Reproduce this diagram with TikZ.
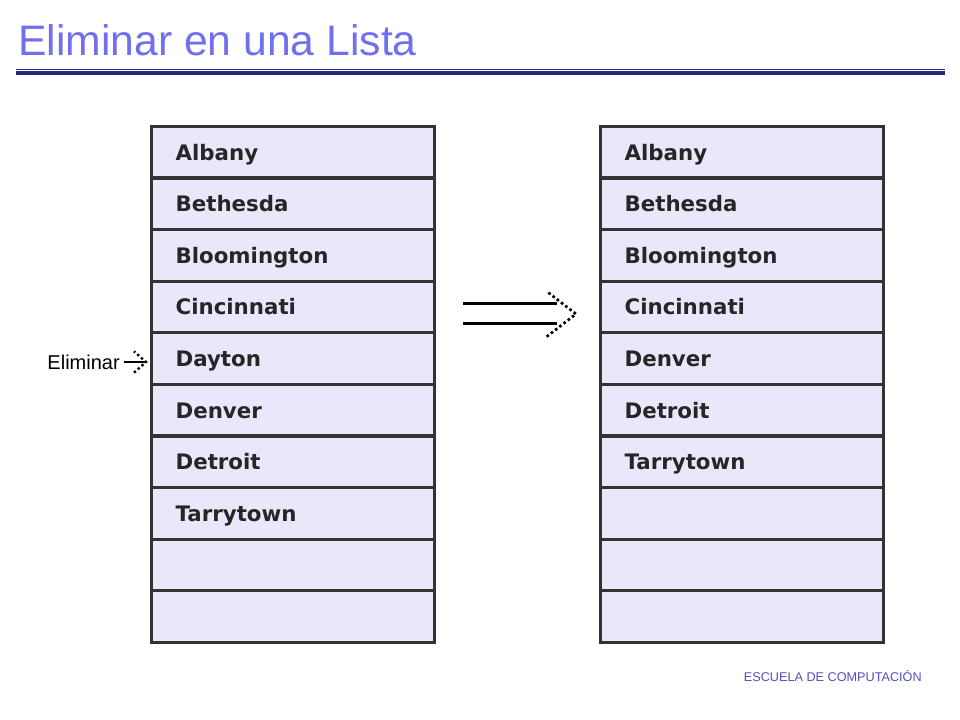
\documentclass[tikz,border=0pt]{standalone}
\usepackage{fontspec}
\setmainfont{Liberation Sans}
\newfontfamily\cellfont{DejaVu Sans}
\begin{document}
\begin{tikzpicture}[x=0.75pt,y=-0.75pt,
  cell/.style={draw=black!80,line width=2.2pt,fill={rgb,255:red,232;green,232;blue,250},minimum width=212pt,minimum height=38.5pt,anchor=north west,inner sep=0pt},
  celltxt/.style={anchor=base west,font=\cellfont\bfseries\fontsize{16}{16}\selectfont,text=black!85,inner sep=0pt},
  navy/.style={draw={rgb,255:red,40;green,40;blue,130}}]
\useasboundingbox (0,0) rectangle (960,720);
\definecolor{ttl}{RGB}{112,112,238}
\node[anchor=base west,text=ttl,font=\fontsize{32}{32}\selectfont,inner sep=0pt] (title) at (18,56) {Eliminar en una Lista};
\draw[navy,line width=0.7pt] (16,69) -- (945,69);
\draw[navy,line width=3pt] (16,73) -- (945,73);
\foreach \side/\x/\names in {L/150/{Albany,Bethesda,Bloomington,Cincinnati,Dayton,Denver,Detroit,Tarrytown,,},R/599/{Albany,Bethesda,Bloomington,Cincinnati,Denver,Detroit,Tarrytown,,,}}{
  \foreach \n [count=\i] in \names {
    \node[cell] (\side\i) at (\x,{125+(\i-1)*51.6}) {};
    \node[celltxt] (\side t\i) at ([xshift=19pt,yshift=-6pt]\side\i.west) {\n};
  }
}
\node[anchor=east,font=\fontsize{15}{15}\selectfont,inner sep=0pt] (elim) at (120,362) {Eliminar};
\coordinate (ea) at (146,362);
\draw[line width=1.6pt] ([xshift=3pt]elim.east) -- (ea);
\draw[line width=1.8pt,dotted] ([xshift=-9,yshift=-8]ea) -- (ea) -- ([xshift=-9,yshift=8]ea);
\coordinate (da) at (463,314);
\coordinate (db) at (576,314);
\draw[line width=1.8pt] ([yshift=-7]da) -- ([xshift=-14,yshift=-7]db);
\draw[line width=1.8pt] ([yshift=8]da) -- ([xshift=-14,yshift=8]db);
\draw[line width=2pt,dotted] ([xshift=-22,yshift=-17]db) -- (db) -- ([xshift=-22,yshift=17]db);
\node[anchor=base east,text={rgb,255:red,80;green,80;blue,190},font=\fontsize{9.5}{9.5}\selectfont,inner sep=0pt] (foot) at (922,681) {ESCUELA DE COMPUTACIÓN};
\end{tikzpicture}
\end{document}
